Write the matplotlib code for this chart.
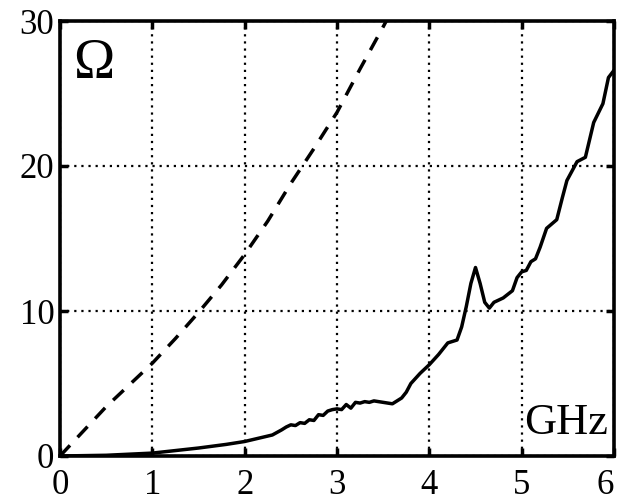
import matplotlib
matplotlib.use("Agg")
import matplotlib.pyplot as plt

# Dashed curve (reference)
x_dash = [0.0, 0.25, 0.5, 0.75, 1.0, 1.25, 1.5, 1.75, 2.0, 2.25, 2.5, 2.75, 3.0, 3.25, 3.5, 3.55]
y_dash = [0.0, 1.7, 3.4, 4.9, 6.4, 8.1, 9.9, 11.8, 13.9, 16.2, 18.8, 21.2, 23.7, 26.7, 29.6, 30.2]

# Solid curve (measured)
x_solid = [0.0, 0.5, 1.0, 1.5, 1.8, 2.0, 2.2, 2.3, 2.4, 2.45, 2.5, 2.55, 2.6, 2.65, 2.7, 2.75,
           2.8, 2.85, 2.9, 2.95, 3.0, 3.05, 3.1, 3.15, 3.2, 3.25, 3.3, 3.35, 3.4, 3.5, 3.6,
           3.65, 3.7, 3.75, 3.8, 3.9, 4.0, 4.1, 4.2, 4.3, 4.35, 4.4, 4.45, 4.5, 4.55, 4.6,
           4.65, 4.7, 4.8, 4.9, 4.95, 5.0, 5.05, 5.1, 5.15, 5.2, 5.27, 5.38, 5.44, 5.49, 5.6,
           5.69, 5.78, 5.88, 5.94, 6.0]
y_solid = [0.0, 0.05, 0.2, 0.55, 0.8, 1.0, 1.3, 1.45, 1.8, 2.0, 2.15, 2.1, 2.3, 2.25, 2.5, 2.45,
           2.85, 2.8, 3.1, 3.2, 3.25, 3.2, 3.55, 3.3, 3.7, 3.65, 3.75, 3.7, 3.8, 3.7, 3.6,
           3.8, 4.0, 4.4, 5.0, 5.7, 6.3, 7.0, 7.8, 8.0, 8.9, 10.3, 11.9, 13.0, 11.9, 10.6,
           10.2, 10.6, 10.9, 11.4, 12.3, 12.7, 12.8, 13.4, 13.6, 14.4, 15.7, 16.3, 17.8, 19.0, 20.3,
           20.6, 23.0, 24.3, 26.1, 26.6]

x_ticks = [0, 1, 2, 3, 4, 5, 6]
y_ticks = [0, 10, 20, 30]

serif = ["Liberation Serif", "DejaVu Serif"]
plt.rcParams['font.family'] = serif

fig = plt.figure(figsize=(6.2, 5.01), dpi=100)
ax = fig.add_axes([60/620, (501-456)/501, 554/620, 435/501])

ax.plot(x_dash, y_dash, color='black', lw=2.5, linestyle=(0, (4.2, 3.2)), zorder=3)
ax.plot(x_solid, y_solid, color='black', lw=2.5, zorder=3)

ax.set_xlim(0, 6)
ax.set_ylim(0, 30)
ax.set_xticks(x_ticks)
ax.set_yticks(y_ticks)
ax.set_xticklabels([str(v) for v in x_ticks])
ax.set_yticklabels([str(v) for v in y_ticks])

ax.grid(True, color='black', linestyle=(0, (1, 2.2)), lw=1.6)
ax.set_axisbelow(True)

ax.tick_params(direction='in', length=6, width=2.5, top=True, right=True,
               labelsize=25, colors='black')
ax.tick_params(axis='x', pad=9)
ax.tick_params(axis='y', pad=4)
labels = ax.get_xticklabels()
labels[-1].set_horizontalalignment('right')
for s in ax.spines.values():
    s.set_linewidth(2.6)
    s.set_color('black')

ax.text(0.023, 0.96, "Ω", transform=ax.transAxes, fontsize=40, ha='left', va='top')
ax.text(0.99, 0.03, "GHz", transform=ax.transAxes, fontsize=32, ha='right', va='bottom')

fig.savefig("out.png", dpi=100)
